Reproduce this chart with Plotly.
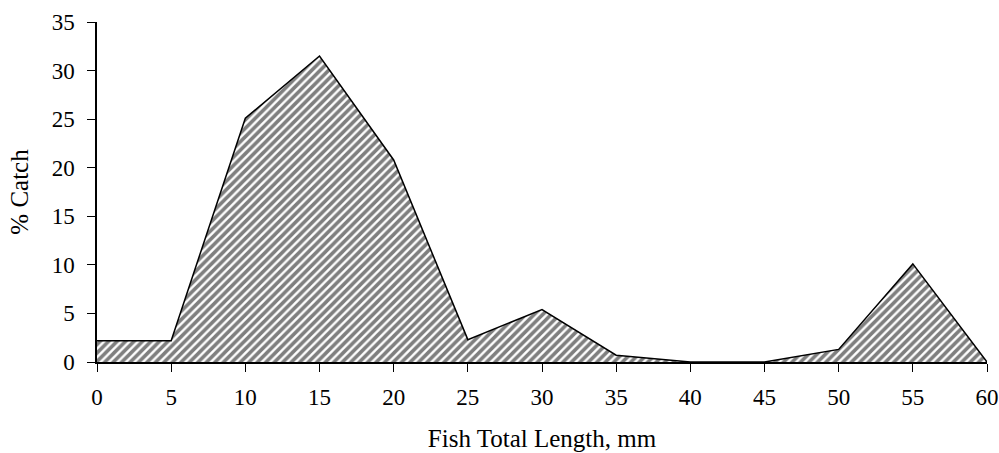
import plotly.graph_objects as go

lengths = [0, 5, 10, 15, 20, 25, 30, 35, 40, 45, 50, 55, 60]
catch_pct = [2.2, 2.2, 25.1, 31.5, 20.8, 2.3, 5.4, 0.7, 0, 0, 1.3, 10.1, 0]
x_ticks = [0, 5, 10, 15, 20, 25, 30, 35, 40, 45, 50, 55, 60]
y_ticks = [0, 5, 10, 15, 20, 25, 30, 35]

fig = go.Figure()
fig.add_trace(go.Scatter(
    x=lengths, y=catch_pct, mode="lines", fill="tozeroy",
    line=dict(color="black", width=1.5),
    fillcolor="white",
    fillpattern=dict(shape="/", fgcolor="black", bgcolor="white", size=6, solidity=0.6),
    showlegend=False,
    cliponaxis=False,
))

fam = "Liberation Serif, Times New Roman, serif"
tick_font = dict(family=fam, size=23, color="black")
title_font = dict(family=fam, size=25, color="black")
fig.update_layout(
    width=999, height=453,
    margin=dict(l=97, r=12, t=22, b=91),
    paper_bgcolor="white", plot_bgcolor="white",
    font=dict(family=fam, size=23, color="black"),
    xaxis=dict(range=[0, 60], tickvals=x_ticks, showgrid=False, zeroline=False,
               showline=True, linecolor="black", linewidth=1.5,
               ticks="outside", ticklen=8, tickcolor="black", tickwidth=1.2,
               tickfont=tick_font, ticklabelstandoff=6, automargin=False,
               title=dict(text="Fish Total Length, mm", standoff=20, font=title_font)),
    yaxis=dict(range=[0, 35], tickvals=y_ticks, showgrid=False, zeroline=False,
               showline=True, linecolor="black", linewidth=1.5,
               ticks="outside", ticklen=8, tickcolor="black", tickwidth=1.2,
               tickfont=tick_font, ticklabelstandoff=8, automargin=False,
               title=dict(text="% Catch", standoff=16, font=title_font)),
)
fig.write_html("out.html", config={"displayModeBar": False},
               post_script="document.body.style.margin='0';document.body.style.padding='0';")
